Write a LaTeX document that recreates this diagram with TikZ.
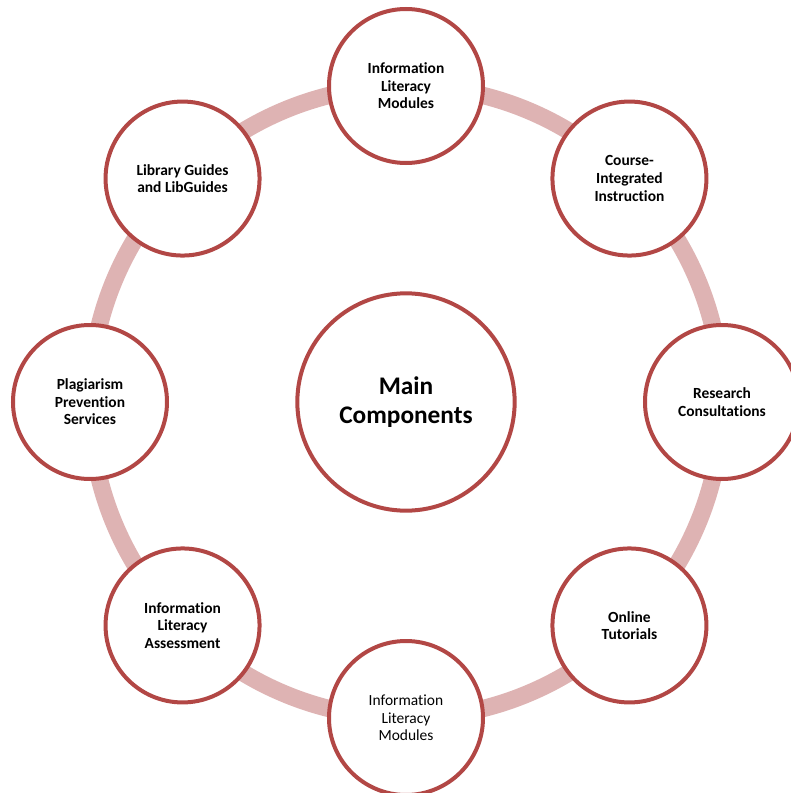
\documentclass[tikz,border=0pt]{standalone}
\usepackage{fontspec}
\setmainfont[Ligatures=NoCommon]{Carlito}
\usepackage{xcolor}
\usepackage{tikz}
\usetikzlibrary{positioning}

\definecolor{ringpink}{HTML}{DEB3B3}
\definecolor{rimred}{HTML}{B24745}

\begin{document}
\begin{tikzpicture}[x=0.75pt, y=0.75pt]

\tikzstyle{hub} = [circle, minimum size=163pt, inner sep=0pt, draw=rimred, line width=3pt, fill=white, align=center, font=\bfseries\fontsize{19}{21.75}\selectfont]
\tikzstyle{item} = [circle, minimum size=115.5pt, inner sep=0pt, draw=rimred, line width=3pt, fill=white, align=center, font=\bfseries\fontsize{11.6}{13.2}\selectfont]
\tikzstyle{itemlight} = [item, font=\fontsize{11.6}{13.2}\selectfont]
\tikzstyle{ring} = [draw=ringpink, line width=13pt]

\useasboundingbox (-406,-391) rectangle (384,402);

\node (hub) [hub] at (0,0) {Main\\Components};

% ring behind the outer circles
\draw [ring] (hub.center) circle (237pt);

\node (modules) [item] at (90:316) {Information\\Literacy\\Modules};
\node (course) [item] at (45:316) {Course-\\Integrated\\Instruction};
\node (consult) [item] at (0:316) {Research\\Consultations};
\node (tutorials) [item] at (-45:316) {Online\\Tutorials};
\node (modules2) [itemlight] at (-90:316) {Information\\Literacy\\Modules};
\node (assess) [item] at (-135:316) {Information\\Literacy\\Assessment};
\node (plagiarism) [item] at (180:316) {Plagiarism\\Prevention\\Services};
\node (guides) [item] at (135:316) {Library Guides\\and LibGuides};

\end{tikzpicture}
\end{document}
